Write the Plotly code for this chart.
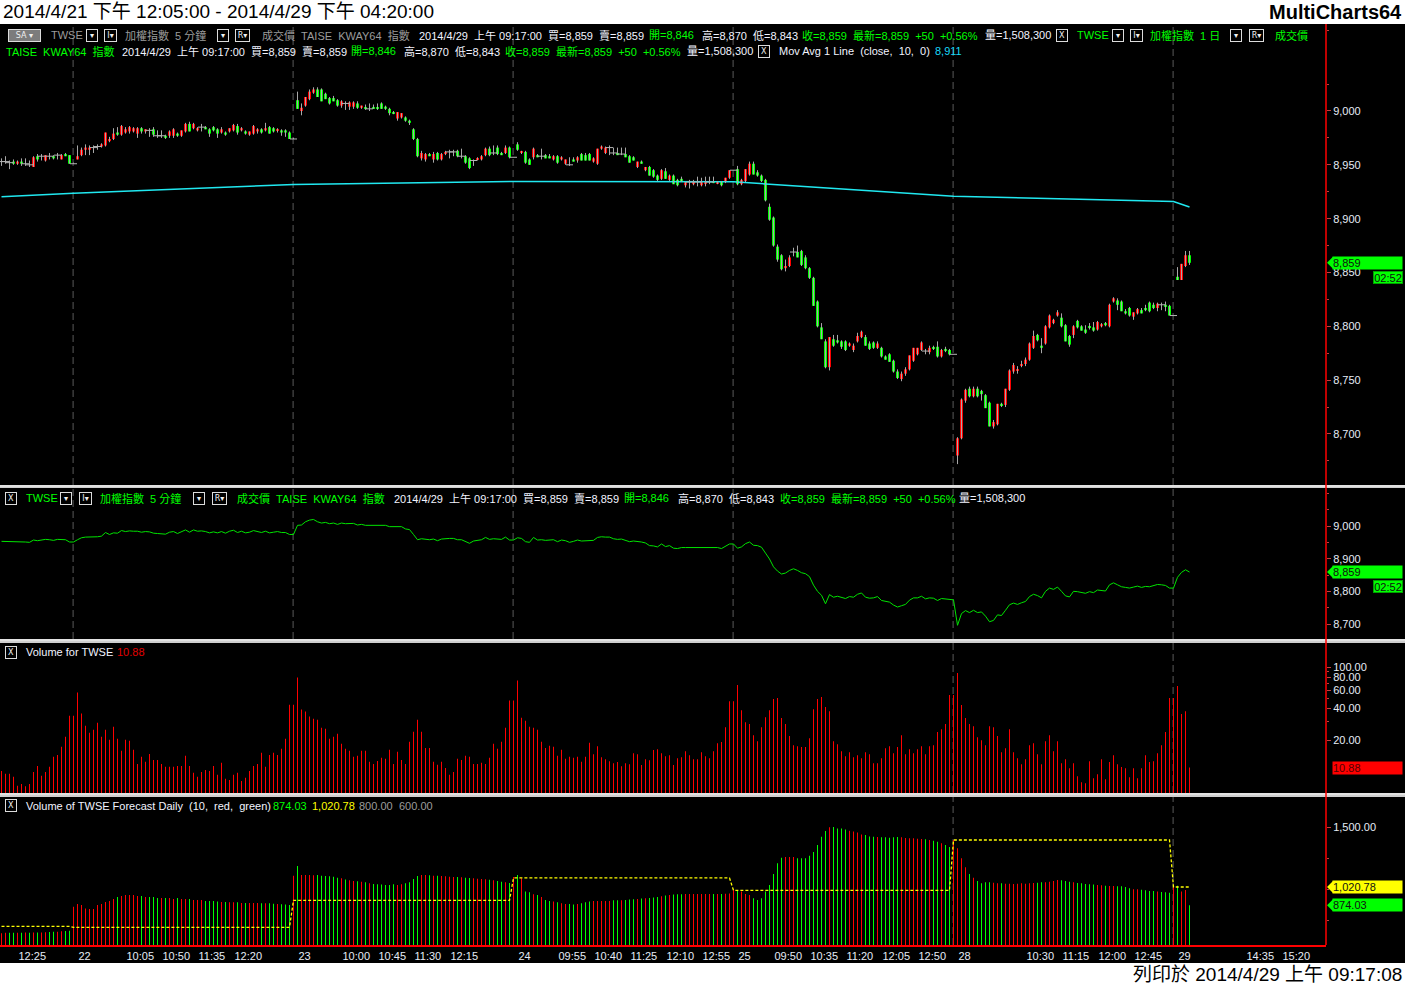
import math
import plotly.graph_objects as go

# ---------------------------------------------------------------- data
day_labels = ["21", "22", "23", "24", "25", "28", "29"]
bars_per_day = [18, 55, 55, 55, 55, 55, 5]

open_ = [
    8953, 8953, 8952, 8953, 8951, 8953, 8951, 8950, 8948, 8958, 8958, 8954, 8958, 8958, 8959, 8955, 8960, 8959,
    8951, 8955, 8959, 8964, 8964, 8966, 8967, 8967, 8968, 8972, 8974, 8980, 8978, 8980, 8981, 8981, 8979, 8984, 8981, 8982,
    8983, 8977, 8977, 8977, 8977, 8977, 8979, 8977, 8981, 8988, 8984, 8982, 8985, 8985, 8983, 8985, 8983, 8980, 8980, 8981,
    8982, 8986, 8982, 8981, 8978, 8979, 8981, 8983, 8982, 8985, 8984, 8982, 8982, 8982, 8980,
    8974, 9010, 9000, 9005, 9011, 9017, 9020, 9020, 9016, 9012, 9012, 9010, 9005, 9007, 9004, 9004, 9007, 9003, 9003, 9002,
    9003, 9003, 9007, 9004, 9002, 8999, 8993, 8994, 8994, 8991, 8983, 8974, 8956, 8955, 8960, 8955, 8961, 8955, 8960, 8962,
    8962, 8963, 8958, 8958, 8956, 8954, 8955, 8955, 8959, 8965, 8961, 8966, 8961, 8961, 8966,
    8957, 8969, 8961, 8962, 8955, 8957, 8959, 8958, 8959, 8958, 8955, 8958, 8955, 8951, 8950, 8955, 8954, 8960, 8959, 8960,
    8953, 8951, 8965, 8961, 8966, 8961, 8961, 8960, 8960, 8958, 8957, 8948, 8953, 8945, 8948, 8945, 8940, 8937, 8944, 8936,
    8940, 8936, 8937, 8931, 8934, 8932, 8934, 8931, 8933, 8934, 8935, 8933, 8934, 8934, 8938,
    8945, 8946, 8932, 8935, 8941, 8951, 8943, 8940, 8936, 8911, 8901, 8874, 8866, 8854, 8856, 8869, 8869, 8870, 8864, 8854,
    8845, 8823, 8799, 8786, 8762, 8788, 8787, 8786, 8786, 8782, 8778, 8786, 8790, 8790, 8784, 8785, 8780, 8780, 8772, 8774,
    8768, 8758, 8751, 8756, 8760, 8768, 8774, 8778, 8777, 8776, 8780, 8781, 8772, 8779, 8778,
    8774, 8680, 8696, 8731, 8742, 8735, 8742, 8740, 8736, 8729, 8707, 8709, 8728, 8727, 8741, 8758, 8759, 8764, 8765, 8769,
    8780, 8792, 8782, 8784, 8799, 8803, 8810, 8808, 8801, 8791, 8792, 8805, 8800, 8797, 8800, 8799, 8797, 8800, 8803, 8800,
    8823, 8824, 8823, 8814, 8817, 8809, 8812, 8815, 8817, 8822, 8820, 8817, 8820, 8820, 8819,
    8810, 8846, 8843, 8856, 8866,
]
high = [
    8956, 8958, 8954, 8955, 8954, 8956, 8956, 8954, 8958, 8960, 8960, 8959, 8961, 8959, 8961, 8960, 8961, 8959,
    8952, 8968, 8966, 8969, 8968, 8968, 8969, 8970, 8980, 8976, 8984, 8985, 8987, 8985, 8986, 8985, 8985, 8985, 8983, 8984,
    8985, 8982, 8982, 8978, 8982, 8984, 8980, 8982, 8989, 8990, 8989, 8985, 8988, 8986, 8984, 8986, 8984, 8985, 8981, 8984,
    8988, 8988, 8985, 8982, 8981, 8987, 8984, 8984, 8989, 8986, 8985, 8984, 8983, 8983, 8981,
    8975, 9018, 9007, 9013, 9020, 9022, 9022, 9021, 9017, 9013, 9014, 9011, 9010, 9009, 9009, 9009, 9009, 9005, 9006, 9007,
    9006, 9007, 9008, 9005, 9003, 9000, 8999, 8998, 8995, 8992, 8984, 8975, 8963, 8961, 8961, 8962, 8962, 8961, 8963, 8964,
    8964, 8964, 8965, 8959, 8957, 8955, 8957, 8959, 8966, 8967, 8968, 8968, 8962, 8968, 8967,
    8957, 8971, 8963, 8963, 8956, 8966, 8960, 8965, 8960, 8960, 8959, 8959, 8958, 8955, 8957, 8957, 8958, 8961, 8961, 8961,
    8957, 8965, 8968, 8967, 8968, 8966, 8966, 8966, 8966, 8959, 8958, 8953, 8954, 8948, 8949, 8946, 8941, 8946, 8947, 8941,
    8941, 8937, 8939, 8934, 8936, 8936, 8939, 8938, 8939, 8939, 8939, 8935, 8935, 8938, 8945,
    8945, 8949, 8937, 8946, 8953, 8953, 8945, 8941, 8937, 8914, 8902, 8876, 8867, 8862, 8866, 8873, 8875, 8871, 8866, 8855,
    8846, 8824, 8803, 8788, 8790, 8792, 8792, 8787, 8787, 8785, 8784, 8794, 8796, 8792, 8786, 8786, 8786, 8781, 8773, 8775,
    8769, 8760, 8758, 8762, 8773, 8780, 8780, 8786, 8779, 8782, 8782, 8786, 8779, 8781, 8779,
    8774, 8697, 8733, 8742, 8744, 8744, 8744, 8741, 8737, 8730, 8713, 8728, 8729, 8742, 8760, 8766, 8763, 8768, 8771, 8785,
    8796, 8793, 8789, 8801, 8811, 8807, 8815, 8812, 8802, 8792, 8801, 8806, 8801, 8801, 8803, 8804, 8805, 8803, 8804, 8821,
    8827, 8826, 8824, 8816, 8818, 8813, 8817, 8817, 8820, 8823, 8822, 8822, 8822, 8823, 8820,
    8810, 8855, 8858, 8870, 8870,
]
low = [
    8949, 8951, 8946, 8950, 8950, 8949, 8949, 8948, 8948, 8953, 8954, 8953, 8955, 8955, 8955, 8955, 8958, 8951,
    8951, 8955, 8958, 8959, 8959, 8961, 8964, 8966, 8967, 8971, 8973, 8977, 8977, 8979, 8979, 8980, 8975, 8979, 8979, 8976,
    8976, 8975, 8975, 8974, 8975, 8975, 8976, 8976, 8980, 8981, 8983, 8981, 8981, 8983, 8976, 8981, 8975, 8979, 8977, 8980,
    8981, 8978, 8981, 8978, 8977, 8978, 8979, 8979, 8981, 8979, 8980, 8980, 8977, 8976, 8974,
    8974, 9002, 8996, 9004, 9010, 9016, 9013, 9009, 9011, 9006, 9009, 9004, 9003, 9001, 9001, 9002, 9002, 9002, 9001, 9000,
    9002, 9001, 9002, 9001, 8996, 8997, 8991, 8993, 8990, 8987, 8973, 8957, 8954, 8953, 8958, 8952, 8954, 8954, 8959, 8956,
    8958, 8957, 8956, 8951, 8946, 8949, 8954, 8954, 8958, 8958, 8959, 8959, 8959, 8960, 8956,
    8957, 8963, 8960, 8951, 8950, 8955, 8957, 8955, 8956, 8956, 8954, 8951, 8954, 8950, 8949, 8953, 8952, 8954, 8954, 8954,
    8952, 8950, 8964, 8960, 8959, 8959, 8959, 8959, 8957, 8952, 8954, 8947, 8951, 8944, 8940, 8938, 8935, 8936, 8937, 8935,
    8932, 8930, 8934, 8929, 8928, 8931, 8930, 8930, 8930, 8932, 8933, 8932, 8930, 8933, 8937,
    8945, 8931, 8931, 8934, 8940, 8941, 8939, 8934, 8916, 8898, 8874, 8860, 8852, 8851, 8855, 8865, 8864, 8856, 8853, 8844,
    8819, 8799, 8788, 8761, 8759, 8781, 8784, 8779, 8777, 8781, 8776, 8785, 8789, 8782, 8778, 8779, 8779, 8771, 8769, 8767,
    8757, 8751, 8749, 8754, 8759, 8767, 8773, 8777, 8774, 8774, 8778, 8771, 8771, 8776, 8773,
    8774, 8672, 8695, 8729, 8734, 8734, 8734, 8731, 8724, 8707, 8705, 8708, 8725, 8725, 8740, 8756, 8756, 8762, 8763, 8768,
    8779, 8786, 8775, 8783, 8798, 8802, 8809, 8799, 8786, 8781, 8789, 8798, 8796, 8793, 8797, 8795, 8796, 8799, 8800, 8799,
    8822, 8815, 8814, 8811, 8809, 8806, 8811, 8812, 8814, 8813, 8816, 8814, 8815, 8814, 8810,
    8810, 8843, 8843, 8855, 8857,
]
close = [
    8953, 8953, 8952, 8951, 8953, 8951, 8951, 8950, 8957, 8955, 8958, 8959, 8958, 8956, 8959, 8959, 8958, 8951,
    8951, 8958, 8964, 8966, 8966, 8966, 8967, 8969, 8980, 8974, 8979, 8978, 8986, 8983, 8985, 8984, 8984, 8981, 8983, 8982,
    8978, 8977, 8977, 8975, 8981, 8983, 8977, 8982, 8988, 8981, 8988, 8984, 8985, 8983, 8979, 8982, 8979, 8983, 8978, 8984,
    8987, 8980, 8984, 8979, 8981, 8986, 8983, 8980, 8984, 8979, 8981, 8983, 8980, 8980, 8974,
    8974, 9002, 9003, 9013, 9018, 9020, 9013, 9009, 9011, 9007, 9009, 9005, 9009, 9007, 9008, 9008, 9003, 9005, 9002, 9002,
    9002, 9002, 9002, 9002, 8998, 8998, 8999, 8998, 8991, 8989, 8974, 8958, 8961, 8960, 8958, 8960, 8955, 8960, 8962, 8962,
    8962, 8958, 8958, 8952, 8947, 8954, 8956, 8958, 8965, 8959, 8961, 8960, 8959, 8966, 8957,
    8957, 8964, 8962, 8952, 8950, 8965, 8957, 8958, 8956, 8956, 8958, 8952, 8957, 8955, 8950, 8953, 8957, 8954, 8954, 8954,
    8956, 8965, 8967, 8966, 8966, 8961, 8959, 8960, 8957, 8952, 8954, 8953, 8951, 8948, 8940, 8939, 8936, 8945, 8937, 8940,
    8932, 8931, 8934, 8934, 8934, 8934, 8934, 8934, 8934, 8934, 8933, 8934, 8931, 8938, 8945,
    8945, 8932, 8936, 8946, 8951, 8941, 8940, 8935, 8917, 8899, 8875, 8862, 8853, 8856, 8864, 8869, 8864, 8857, 8854, 8845,
    8819, 8800, 8788, 8762, 8790, 8782, 8785, 8781, 8778, 8784, 8782, 8791, 8795, 8782, 8779, 8780, 8784, 8772, 8769, 8767,
    8758, 8752, 8756, 8760, 8773, 8780, 8780, 8785, 8777, 8780, 8779, 8772, 8778, 8777, 8774,
    8774, 8696, 8732, 8741, 8735, 8742, 8735, 8737, 8724, 8707, 8711, 8728, 8726, 8742, 8759, 8764, 8760, 8765, 8769, 8784,
    8791, 8787, 8780, 8800, 8810, 8806, 8813, 8800, 8786, 8783, 8800, 8799, 8796, 8794, 8799, 8796, 8804, 8802, 8801, 8820,
    8826, 8820, 8814, 8812, 8810, 8813, 8816, 8812, 8815, 8814, 8817, 8821, 8820, 8818, 8810,
    8810, 8843, 8858, 8866, 8859,
]

# daily 10-day moving average value at each day's first bar, plus the live value
ma_daily = [8920.4, 8923.5, 8931.8, 8934.6, 8934.2, 8920.7, 8916.0]
ma_live = 8910.8

volume = [
    10.1, 9.5, 9.5, 8.9, 7.3, 7.6, 7.2, 7.6, 9.9, 11.3, 9.1, 9.9, 11.1, 13.8, 14.4, 17.2, 21.5, 34.2,
    34.2, 56.9, 35.8, 27.4, 23.5, 25.1, 29.3, 21.5, 25.1, 20.1, 26.8, 20.6, 15.8, 20.1, 19.7, 16.1, 11.8, 13.8, 12.4, 14.7,
    12.9, 12.9, 11.8, 11.1, 11.1, 11.1, 11.3, 11.3, 14.1, 11.3, 9.7, 8.9, 9.9, 10.3, 10.1, 11.3, 9.3, 12.1, 8.5, 8.3,
    9.3, 9.7, 8.1, 8.7, 10.1, 11.3, 11.8, 15.1, 11.1, 14.4, 15.1, 14.4, 16.5, 20.6, 43.6,
    43.6, 79.3, 39.1, 37.4, 33.5, 32.0, 31.3, 26.2, 25.7, 20.6, 21.5, 23.0, 18.4, 16.5, 15.8, 13.8, 14.1, 15.8, 15.8, 12.4,
    11.8, 12.6, 13.5, 13.2, 16.1, 11.8, 15.4, 12.9, 11.8, 19.2, 24.0, 31.3, 24.0, 16.8, 16.8, 12.4, 11.6, 12.4, 10.8, 9.3,
    9.9, 13.2, 12.9, 14.1, 13.8, 11.8, 11.8, 12.1, 11.8, 13.5, 18.4, 16.5, 19.2, 26.2, 47.7,
    47.7, 74.3, 32.7, 30.6, 26.8, 26.2, 25.1, 19.2, 16.8, 17.6, 17.2, 14.1, 16.1, 13.2, 13.8, 13.5, 13.8, 12.4, 13.8, 18.8,
    14.6, 17.4, 13.7, 13.1, 12.5, 12.0, 12.3, 11.2, 12.0, 11.7, 14.9, 14.6, 11.5, 13.1, 12.8, 16.0, 16.3, 14.9, 14.0, 14.3,
    11.5, 13.4, 13.7, 15.6, 14.3, 13.1, 13.1, 15.3, 14.0, 13.4, 15.6, 18.6, 19.1, 26.5, 47.1,
    47.1, 67.1, 38.6, 29.6, 28.4, 22.2, 19.5, 26.5, 33.1, 38.6, 49.3, 50.4, 32.4, 28.4, 21.8, 17.8, 17.4, 17.1, 17.1, 20.8,
    39.5, 49.3, 51.5, 41.3, 37.8, 19.5, 18.2, 15.6, 14.0, 15.3, 13.7, 14.3, 13.4, 15.3, 14.6, 12.0, 12.0, 13.4, 16.7, 17.4,
    14.9, 17.1, 22.2, 14.6, 16.3, 14.9, 16.3, 17.4, 14.6, 17.4, 17.8, 23.8, 25.4, 28.4, 53.8,
    53.8, 87.5, 43.2, 32.4, 28.4, 27.1, 21.3, 19.9, 17.8, 27.1, 26.5, 21.8, 15.3, 16.7, 25.4, 15.3, 13.4, 11.7, 13.1, 17.8,
    18.6, 14.6, 11.7, 19.5, 22.2, 15.6, 19.5, 12.0, 13.1, 10.7, 12.0, 9.0, 7.9, 7.7, 12.5, 8.6, 9.4, 13.1, 8.4, 12.3,
    14.3, 11.7, 11.0, 10.7, 8.8, 10.7, 8.6, 10.7, 14.3, 12.3, 12.5, 14.9, 17.8, 23.8, 50.4,
    50.4, 65.7, 35.4, 37.8, 10.88,
]

forecast = [
    652, 655, 655, 656, 655, 656, 657, 656, 657, 658, 658, 660, 661, 663, 664, 667, 669, 672,
    864, 885, 877, 850, 845, 845, 877, 885, 901, 909, 925, 941, 949, 957, 957, 957, 949, 949, 941, 941,
    941, 933, 933, 933, 933, 925, 933, 925, 925, 925, 917, 917, 917, 909, 909, 909, 904, 901, 901, 898,
    898, 898, 893, 893, 893, 893, 893, 890, 890, 890, 887, 885, 882, 880, 877,
    1110, 1188, 1117, 1117, 1116, 1114, 1116, 1111, 1109, 1106, 1103, 1095, 1090, 1080, 1074, 1069, 1066, 1063, 1058, 1050,
    1045, 1042, 1040, 1037, 1037, 1042, 1037, 1042, 1050, 1058, 1085, 1109, 1116, 1117, 1114, 1111, 1111, 1109, 1106, 1103,
    1101, 1101, 1098, 1095, 1093, 1090, 1087, 1085, 1082, 1079, 1074, 1069, 1063, 1058, 1053,
    1100, 1117, 1090, 984, 978, 962, 957, 941, 917, 909, 904, 898, 890, 885, 885, 880, 885, 890, 898, 904,
    909, 909, 909, 909, 909, 914, 914, 914, 917, 920, 922, 925, 928, 930, 933, 936, 941, 946, 952, 957,
    960, 963, 963, 964, 965, 965, 965, 965, 965, 965, 964, 965, 965, 966, 968,
    997, 997, 984, 965, 957, 930, 917, 930, 984, 1037, 1125, 1210, 1255, 1260, 1260, 1260, 1250, 1250, 1250, 1270,
    1300, 1356, 1423, 1468, 1497, 1500, 1489, 1489, 1481, 1470, 1465, 1457, 1441, 1436, 1425, 1423, 1420, 1418, 1418, 1415,
    1418, 1420, 1418, 1412, 1410, 1410, 1407, 1404, 1402, 1396, 1390, 1383, 1370, 1356, 1340,
    1396, 1330, 1250, 1178, 1125, 1095, 1069, 1050, 1058, 1058, 1055, 1050, 1050, 1047, 1047, 1045, 1047, 1050, 1047, 1050,
    1053, 1055, 1058, 1058, 1063, 1069, 1077, 1074, 1069, 1063, 1058, 1053, 1050, 1045, 1042, 1040, 1037, 1034, 1031, 1029,
    1029, 1026, 1026, 1021, 1010, 1002, 1002, 999, 994, 989, 989, 984, 981, 978, 975,
    1031, 1031, 984, 997, 874.03,
]
# previous day's actual volume (yellow dashed step line)
daily_forecast = [707, 699, 914, 1093, 994, 1396, 1020.78]

# time-axis labels: (bar index, text); day labels sit on each session's first traded bar
tick_bar = [4, 19, 31, 40, 49, 58, 74, 85, 94, 103, 112, 129, 139, 148, 157, 166, 175,
            184, 193, 202, 211, 220, 229, 239, 256, 265, 274, 283, 294, 311, 320]
tick_text = ["12:25", "22", "10:05", "10:50", "11:35", "12:20", "23", "10:00", "10:45", "11:30", "12:15",
             "24", "09:55", "10:40", "11:25", "12:10", "12:55", "25", "09:50", "10:35", "11:20", "12:05",
             "12:50", "28", "10:30", "11:15", "12:00", "12:45", "29", "14:35", "15:20"]

n = len(close)
assert len(open_) == n and len(high) == n and len(low) == n
assert len(volume) == n and len(forecast) == n and sum(bars_per_day) == n

# ---------------------------------------------------------------- geometry
W, H = 1405, 985
PLOT_W = 1326          # plot area right edge (px)
TOP, BOTTOM = 24, 945
PLOT_H = BOTTOM - TOP
FONT = "Liberation Sans, Noto Sans CJK TC, sans-serif"
GRAY, WHITE, GREEN, RED, CYAN, YELLOW = "#9c9c9c", "#f2f4ff", "#00ff00", "#ff0000", "#18d8f8", "#ffff00"


def py(p):
    return (BOTTOM - p) / PLOT_H


def px(p):
    return p / PLOT_W


panes_px = [(24, 485), (488, 639), (643, 793), (797, 945)]
domains = [[py(b), py(a)] for a, b in panes_px]

XR = [-0.375, 331.125]
idx = list(range(n))
day_start = []
s = 0
for c in bars_per_day:
    day_start.append(s)
    s += c

fig = go.Figure()

# ---------------------------------------------------------------- pane 1: candles + MA
ma_x = day_start + [n - 1]
ma_y = ma_daily + [ma_live]
fig.add_trace(go.Scatter(x=ma_x, y=ma_y, mode="lines", line=dict(color="#20e8f0", width=1.5),
                         xaxis="x", yaxis="y", hoverinfo="skip"))

wx, wy = [], []
for i in idx:
    wx += [i, i, None]
    wy += [low[i], high[i], None]
fig.add_trace(go.Scatter(x=wx, y=wy, mode="lines", line=dict(color="#a8a8a8", width=1),
                         xaxis="x", yaxis="y", hoverinfo="skip"))

up = [i for i in idx if close[i] > open_[i]]
dn = [i for i in idx if close[i] < open_[i]]
dj = [i for i in idx if close[i] == open_[i]]
fig.add_trace(go.Bar(x=up, y=[close[i] - open_[i] for i in up], base=[open_[i] for i in up],
                     width=0.75, marker=dict(color=RED, line=dict(width=0)), xaxis="x", yaxis="y"))
fig.add_trace(go.Bar(x=dn, y=[open_[i] - close[i] for i in dn], base=[close[i] for i in dn],
                     width=0.75, marker=dict(color=GREEN, line=dict(width=0)), xaxis="x", yaxis="y"))
fig.add_trace(go.Scatter(x=dj, y=[close[i] for i in dj], mode="markers",
                         marker=dict(symbol="line-ew", size=5, line=dict(color="#b4b4b4", width=1)),
                         xaxis="x", yaxis="y", hoverinfo="skip"))

# ---------------------------------------------------------------- pane 2: close line
fig.add_trace(go.Scatter(x=idx, y=close, mode="lines", line=dict(color="#00e400", width=1),
                         xaxis="x2", yaxis="y2", hoverinfo="skip"))

# ---------------------------------------------------------------- pane 3: volume (log)
fig.add_trace(go.Bar(x=idx, y=volume, width=0.25, marker=dict(color=RED, line=dict(width=0)),
                     xaxis="x3", yaxis="y3"))

# ---------------------------------------------------------------- pane 4: volume forecast
fc_col = []
for i in idx:
    if close[i] != open_[i]:
        rising = close[i] > open_[i]
    else:
        rising = i == 0 or close[i] >= close[i - 1]
    fc_col.append(RED if rising else GREEN)
fig.add_trace(go.Bar(x=idx, y=forecast, width=0.25, marker=dict(color=fc_col, line=dict(width=0)),
                     xaxis="x4", yaxis="y4"))
yx, yy = [], []
for d, st in enumerate(day_start):
    yx += [st, st + bars_per_day[d] - 1]
    yy += [daily_forecast[d], daily_forecast[d]]
fig.add_trace(go.Scatter(x=yx, y=yy, mode="lines", line=dict(color=YELLOW, width=1.3, dash="3px,2px"),
                         xaxis="x4", yaxis="y4", hoverinfo="skip"))

# ---------------------------------------------------------------- axes
tickfont = dict(family=FONT, size=11, color="#e6ecf6")
yranges = [[8652.6, 9080.8], [8654.1, 9116.3], [0.7936, 2.2298], [557.5, 1739.6]]
yticks = [
    (list(range(8700, 9001, 50)), [f"{v:,}" for v in range(8700, 9001, 50)]),
    ([8700, 8800, 8900, 9000], ["8,700", "8,800", "8,900", "9,000"]),
    ([20, 40, 60, 80, 100], ["20.00", "40.00", "60.00", "80.00", "100.00"]),
    ([1500], ["1,500.00"]),
]
minors = [list(range(8675, 9076, 50)), list(range(8650, 9101, 50)), [30, 50, 70, 90], [750, 1000, 1250]]
layout_axes = {}
for k in range(4):
    sfx = "" if k == 0 else str(k + 1)
    layout_axes["xaxis" + sfx] = dict(
        domain=[0, 1], range=XR, anchor="y" + sfx, showgrid=False, zeroline=False,
        showticklabels=(k == 3), showline=(k == 3), linecolor=RED, linewidth=2,
        tickmode="array", tickvals=tick_bar if k == 3 else [], ticktext=tick_text if k == 3 else [],
        ticks="", ticklabelposition="outside right", tickfont=tickfont, fixedrange=True,
    )
    layout_axes["yaxis" + sfx] = dict(
        domain=domains[k], range=yranges[k], type="log" if k == 2 else "linear",
        anchor="x" + sfx, side="right", showgrid=False, zeroline=False, showline=False,
        tickmode="array", tickvals=yticks[k][0], ticktext=yticks[k][1], tickfont=tickfont,
        ticks="outside", ticklen=4, tickcolor="#c04040", tickwidth=1,
        minor=dict(tickmode="array", tickvals=minors[k], ticks="outside", ticklen=2, tickcolor="#c04040"),
        fixedrange=True,
    )

# ---------------------------------------------------------------- shapes
shapes = []
# white title bar & footer
shapes.append(dict(type="rect", xref="paper", yref="paper", x0=-0.01, x1=px(W + 5), y0=py(TOP), y1=py(-5),
                   fillcolor="white", line=dict(width=0), layer="above"))
shapes.append(dict(type="rect", xref="paper", yref="paper", x0=-0.01, x1=px(W + 5), y0=py(990), y1=py(963),
                   fillcolor="white", line=dict(width=0), layer="above"))
# dashed session separators
for k, starts in enumerate([day_start[1:], day_start[1:], day_start[-2:], day_start[-2:]]):
    sfx = "" if k == 0 else str(k + 1)
    for st in starts:
        shapes.append(dict(type="line", xref="x" + sfx, yref=f"y{sfx} domain", x0=st - 0.1, x1=st - 0.1,
                           y0=0, y1=1, line=dict(color="#5a5a5a", width=1, dash="7px,4px"), layer="below"))
# pane separators
for a, b in [(485, 488), (639, 643), (793, 797)]:
    shapes.append(dict(type="rect", xref="paper", yref="paper", x0=0, x1=px(W + 5), y0=py(b), y1=py(a),
                       fillcolor="#cfcfcf", line=dict(width=0), layer="above"))
    shapes.append(dict(type="line", xref="paper", yref="paper", x0=0, x1=px(W + 5), y0=py(a + 1), y1=py(a + 1),
                       line=dict(color="#f4f4f4", width=1), layer="above"))
# red right border of the price area
shapes.append(dict(type="line", xref="paper", yref="paper", x0=1, x1=1, y0=0, y1=1,
                   line=dict(color=RED, width=1.5), layer="above"))

# ---------------------------------------------------------------- annotations
anns = []


def run(xp, yp, text, color, size=11):
    anns.append(dict(xref="paper", yref="paper", x=px(xp), y=py(yp), xanchor="left", yanchor="middle",
                     text=text, showarrow=False, font=dict(family=FONT, size=size, color=color)))


def button(xp, yp, text, w=10, bg="#000000", fg="#f0f0f0"):
    anns.append(dict(xref="paper", yref="paper", x=px(xp), y=py(yp), xanchor="left", yanchor="middle",
                     text=text, showarrow=False, bordercolor="#dcdcdc", borderwidth=1, borderpad=0,
                     width=w, height=11, bgcolor=bg, align="center",
                     font=dict(family="DejaVu Sans, sans-serif", size=8, color=fg)))


NB = "&nbsp;"
# pane 1 line 1
button(8, 35, "SA " + "▾", w=31, bg="#7c7c7c")
run(49, 35, "TWSE", GRAY)
button(86, 35, "▾")
button(104, 35, "I▾", w=11)
run(123, 35, f"加權指數{NB} 5 分鐘", GRAY)
button(217, 35, "▾")
button(235, 35, "R▾", w=13)
run(260, 35, f"成交價{NB} TAISE{NB} KWAY64{NB} 指數", GRAY)
run(417, 35, f"2014/4/29{NB} 上午 09:17:00{NB} 買=8,859{NB} 賣=8,859", WHITE)
run(647, 35, "開=8,846", GREEN)
run(700, 35, f"高=8,870{NB} 低=8,843", WHITE)
run(800, 35, f"收=8,859{NB} 最新=8,859{NB} +50{NB} +0.56%", GREEN)
run(983, 35, "量=1,508,300", WHITE)
button(1056, 35, "X")
run(1075, 35, "TWSE", GREEN)
button(1112, 35, "▾")
button(1130, 35, "I▾", w=11)
run(1148, 35, f"加權指數{NB} 1 日", GREEN)
button(1230, 35, "▾")
button(1249, 35, "R▾", w=13)
run(1273, 35, "成交價", GREEN)
# pane 1 line 2
run(4, 51, f"TAISE{NB} KWAY64{NB} 指數", GREEN)
run(120, 51, f"2014/4/29{NB} 上午 09:17:00{NB} 買=8,859{NB} 賣=8,859", WHITE)
run(349, 51, "開=8,846", GREEN)
run(402, 51, f"高=8,870{NB} 低=8,843", WHITE)
run(503, 51, f"收=8,859{NB} 最新=8,859{NB} +50{NB} +0.56%", GREEN)
run(685, 51, "量=1,508,300", WHITE)
button(758, 51, "X")
run(777, 51, f"Mov Avg 1 Line{NB} (close,{NB} 10,{NB} 0)", WHITE)
run(933, 51, f"{ma_live:,.0f}", CYAN)
# pane 2 header
button(5, 498, "X")
run(24, 498, "TWSE", GREEN)
button(60, 498, "▾")
button(79, 498, "I▾", w=11)
run(98, 498, f"加權指數{NB} 5 分鐘", GREEN)
button(193, 498, "▾")
button(212, 498, "R▾", w=13)
run(235, 498, f"成交價{NB} TAISE{NB} KWAY64{NB} 指數", GREEN)
run(392, 498, f"2014/4/29{NB} 上午 09:17:00{NB} 買=8,859{NB} 賣=8,859", WHITE)
run(622, 498, "開=8,846", GREEN)
run(676, 498, f"高=8,870{NB} 低=8,843", WHITE)
run(778, 498, f"收=8,859{NB} 最新=8,859{NB} +50{NB} +0.56%", GREEN)
run(957, 498, "量=1,508,300", WHITE)
# pane 3 header
button(5, 652, "X")
run(24, 652, "Volume for TWSE", WHITE)
run(115, 652, f"{volume[-1]:.2f}", "#e00000")
# pane 4 header
button(5, 806, "X")
run(24, 806, f"Volume of TWSE Forecast Daily{NB} (10,{NB} red,{NB} green)", WHITE)
run(271, 806, f"{forecast[-1]:,.2f}", GREEN)
run(310, 806, f"{daily_forecast[-1]:,.2f}", YELLOW)
run(357, 806, "800.00", GRAY)
run(397, 806, "600.00", GRAY)

# title bar / footer
anns.append(dict(xref="paper", yref="paper", x=px(1), y=py(12), xanchor="left", yanchor="middle",
                 text="2014/4/21 下午 12:05:00 - 2014/4/29 下午 04:20:00", showarrow=False,
                 font=dict(family=FONT, size=19, color="#000000")))
anns.append(dict(xref="paper", yref="paper", x=px(1404), y=py(12), xanchor="right", yanchor="middle",
                 text="<b>MultiCharts64</b>", showarrow=False,
                 font=dict(family=FONT, size=20, color="#000000")))
anns.append(dict(xref="paper", yref="paper", x=px(1404), y=py(974), xanchor="right", yanchor="middle",
                 text="列印於 2014/4/29 上午 09:17:08", showarrow=False,
                 font=dict(family=FONT, size=19, color="#000000")))


def price_tag(yref, yval, text, bg, fg="#101010", w=69):
    anns.append(dict(xref="paper", yref=yref, x=px(1332), y=yval, xanchor="left", yanchor="middle",
                     text=text, showarrow=False, bgcolor=bg, width=w, height=12, borderpad=0, align="left",
                     font=dict(family=FONT, size=11, color=fg)))
    shapes.append(dict(type="path", xref="paper", yref=yref, xsizemode="pixel", ysizemode="pixel",
                       xanchor=1.0, yanchor=yval, path="M 1,0 L 7,6 L 7,-6 Z",
                       fillcolor=bg, line=dict(width=0), layer="above"))


def timer_tag(yp):
    anns.append(dict(xref="paper", yref="paper", x=px(1403), y=py(yp), xanchor="right", yanchor="middle",
                     text="02:52", showarrow=False, bgcolor=GREEN, bordercolor="#00a000", borderwidth=1,
                     borderpad=0, width=28, height=11,
                     font=dict(family=FONT, size=11, color="#101010")))


last = f"{close[-1]:,}"
price_tag("y", close[-1], last, GREEN)
timer_tag(277)
price_tag("y2", close[-1], last, GREEN)
timer_tag(586)
price_tag("y3", math.log10(volume[-1]), f"{volume[-1]:.2f}", RED, fg="#500000")
price_tag("y4", daily_forecast[-1], f"{daily_forecast[-1]:,.2f}", YELLOW)
price_tag("y4", forecast[-1], f"{forecast[-1]:,.2f}", GREEN)

fig.update_layout(
    width=W, height=H, margin=dict(l=0, r=W - PLOT_W, t=TOP, b=H - BOTTOM),
    paper_bgcolor="#000000", plot_bgcolor="#000000", showlegend=False, hovermode=False,
    barmode="overlay", shapes=shapes, annotations=anns, **layout_axes,
)
fig.write_html("out.html", config={"displayModeBar": False},
               post_script="document.body.style.margin='0';document.body.style.overflow='hidden';")
